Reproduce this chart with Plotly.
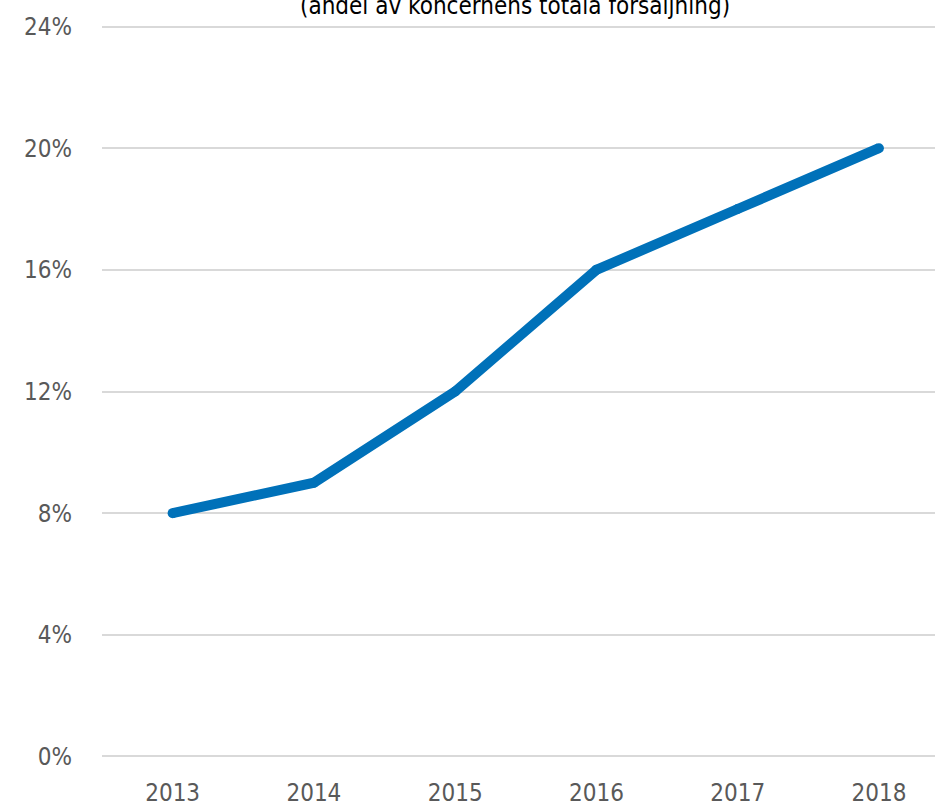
import plotly.graph_objects as go

# Dados do gráfico
anos = ["2013", "2014", "2015", "2016", "2017", "2018"]
andel = [8, 9, 12, 16, 18, 20]
ticks_y = [0, 4, 8, 12, 16, 20, 24]
rotulos_y = [f"{v}%" for v in ticks_y]
titulo = "(andel av koncernens totala försäljning)"

FONTE = "DejaVu Sans Condensed, Liberation Sans Narrow, sans-serif"
COR_TEXTO = "#595959"
COR_LINHA = "#0071B9"

fig = go.Figure(
    go.Scatter(
        x=anos,
        y=andel,
        mode="lines+markers",
        line=dict(color=COR_LINHA, width=10),
        marker=dict(color=COR_LINHA, size=10, line=dict(width=0)),
        hoverinfo="skip",
        cliponaxis=False,
    )
)

# Margens: área do gráfico de x=102 a 935 e de y=26 a 757 (com folga de 0.15 no eixo y)
fig.update_layout(
    width=935,
    height=806,
    margin=dict(l=102, r=0, t=21.5, b=44.5),
    paper_bgcolor="white",
    plot_bgcolor="white",
    showlegend=False,
    font=dict(family=FONTE, size=24, color=COR_TEXTO),
)

# Título cortado no topo
fig.add_annotation(
    text=titulo,
    xref="paper",
    yref="paper",
    x=0.496,
    y=1.0,
    yshift=0,
    xanchor="center",
    yanchor="bottom",
    showarrow=False,
    font=dict(family=FONTE, size=24, color="#000000"),
)

fig.update_xaxes(
    type="category",
    range=[-0.5, 5.397],
    showgrid=False,
    showline=False,
    zeroline=False,
    ticks="",
    ticklabelstandoff=15,
    automargin=False,
)

fig.update_yaxes(
    range=[-0.15, 24.15],
    tickvals=ticks_y,
    ticktext=rotulos_y,
    showgrid=True,
    gridcolor="#D9D9D9",
    gridwidth=1.5,
    zeroline=False,
    showline=False,
    ticks="",
    ticklabelstandoff=29,
    automargin=False,
)

# Remove a margem padrão do body da página e esconde a barra de ferramentas
fig.write_html(
    "out.html",
    config={"displayModeBar": False},
    post_script="document.body.style.margin='0';",
)
